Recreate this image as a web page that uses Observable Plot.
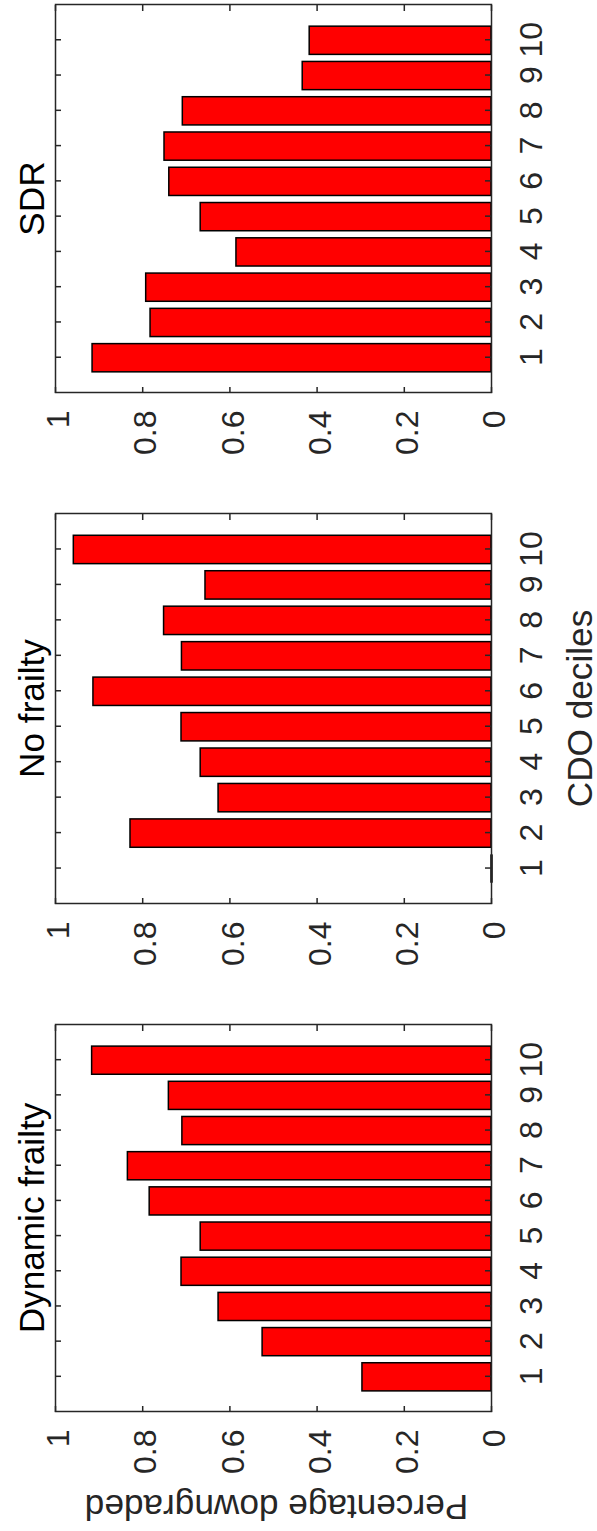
<!DOCTYPE html>
<html><head><meta charset="utf-8">
<script src="https://cdn.jsdelivr.net/npm/d3@7"></script>
<script src="https://cdn.jsdelivr.net/npm/@observablehq/plot@0.6"></script>
<style>
html,body{margin:0;padding:0;background:#fff;width:597px;height:1531px;overflow:hidden;}
#fig{position:absolute;left:0;top:0;width:1531px;height:597px;transform-origin:0 0;transform:translate(0px,1531px) rotate(-90deg);}
#fig svg{position:absolute;top:0;max-width:none;overflow:visible;background:transparent;}
</style></head><body><div id="fig"></div>
<script>
// ---- data ----
const deciles = [1, 2, 3, 4, 5, 6, 7, 8, 9, 10];
const dynamicFrailty = [0.296, 0.525, 0.626, 0.711, 0.667, 0.784, 0.834, 0.709, 0.740, 0.916];
const noFrailty = [0, 0.828, 0.626, 0.667, 0.711, 0.913, 0.710, 0.751, 0.656, 0.958];
const sdr = [0.915, 0.782, 0.792, 0.585, 0.667, 0.739, 0.750, 0.708, 0.433, 0.417];
const panelTitles = ["Dynamic frailty", "No frailty", "SDR"];
const valueTicks = [0, 0.2, 0.4, 0.6, 0.8, 1];
const yLabel = "Percentage downgraded";
const xLabel = "CDO deciles";

// ---- layout (unrotated figure, 1531 x 597) ----
const FONT = "'Liberation Sans', Arial, Helvetica, sans-serif";
const INK = "#262626";
const H = 597, MT = 55, MB = 106, ML = 116, MR = 10;
const panels = [
  {x0: 119, w: 387, values: dynamicFrailty, title: panelTitles[0], ylab: true, xlab: false},
  {x0: 627, w: 390, values: noFrailty, title: panelTitles[1], ylab: false, xlab: true},
  {x0: 1138, w: 388, values: sdr, title: panelTitles[2], ylab: false, xlab: false}
];
const innerH = H - MT - MB;
const fig = document.getElementById("fig");

for (const p of panels) {
  const rows = deciles.map((d, i) => ({decile: d, value: p.values[i]}));
  const marks = [
    Plot.rectY(rows, {x1: d => d.decile - 0.4, x2: d => d.decile + 0.4, y1: 0, y2: "value",
      fill: "#ff0000", stroke: "#000", strokeWidth: 1.5}),
    Plot.ruleY(rows.filter(d => d.value === 0), {x1: d => d.decile - 0.4, x2: d => d.decile + 0.4, y: 0,
      stroke: "#000", strokeWidth: 2.5}),
    Plot.frame({stroke: INK, strokeWidth: 1.5}),
    Plot.tickY(valueTicks, {y: d => d, insetRight: p.w - 6, stroke: INK, strokeWidth: 1.5}),
    Plot.tickY(valueTicks, {y: d => d, insetLeft: p.w - 6, stroke: INK, strokeWidth: 1.5}),
    Plot.tickX(deciles, {x: d => d, insetTop: innerH - 6, stroke: INK, strokeWidth: 1.5}),
    Plot.tickX(deciles, {x: d => d, insetBottom: innerH - 6, stroke: INK, strokeWidth: 1.5}),
    Plot.axisX({ticks: deciles, tickSize: 0, tickPadding: 28, tickFormat: d => String(d), label: null, fill: INK}),
    Plot.axisY({ticks: valueTicks, tickSize: 0, tickPadding: 18, dy: 3.5, tickFormat: d => String(d), label: null, fill: INK}),
    Plot.text([p.title], {text: d => d, frameAnchor: "top", lineAnchor: "bottom", dy: -12, fontSize: 35.2, fill: "#000"})
  ];
  if (p.xlab) marks.push(Plot.text([xLabel], {text: d => d, frameAnchor: "bottom", lineAnchor: "bottom", dy: 100, fontSize: 35.2, fill: INK}));
  if (p.ylab) marks.push(Plot.text([yLabel], {text: d => d, frameAnchor: "left", textAnchor: "middle", lineAnchor: "bottom", rotate: -90, dx: -83, dy: 3, fontSize: 35.2, fill: INK}));
  const svg = Plot.plot({
    width: ML + p.w + MR, height: H,
    marginLeft: ML, marginRight: MR, marginTop: MT, marginBottom: MB,
    style: {fontFamily: FONT, fontSize: "32px", color: INK, background: "transparent", overflow: "visible"},
    x: {type: "linear", domain: [0, 11]},
    y: {type: "linear", domain: [0, 1]},
    marks
  });
  svg.style.left = (p.x0 - ML) + "px";
  fig.appendChild(svg);
}
</script></body></html>
